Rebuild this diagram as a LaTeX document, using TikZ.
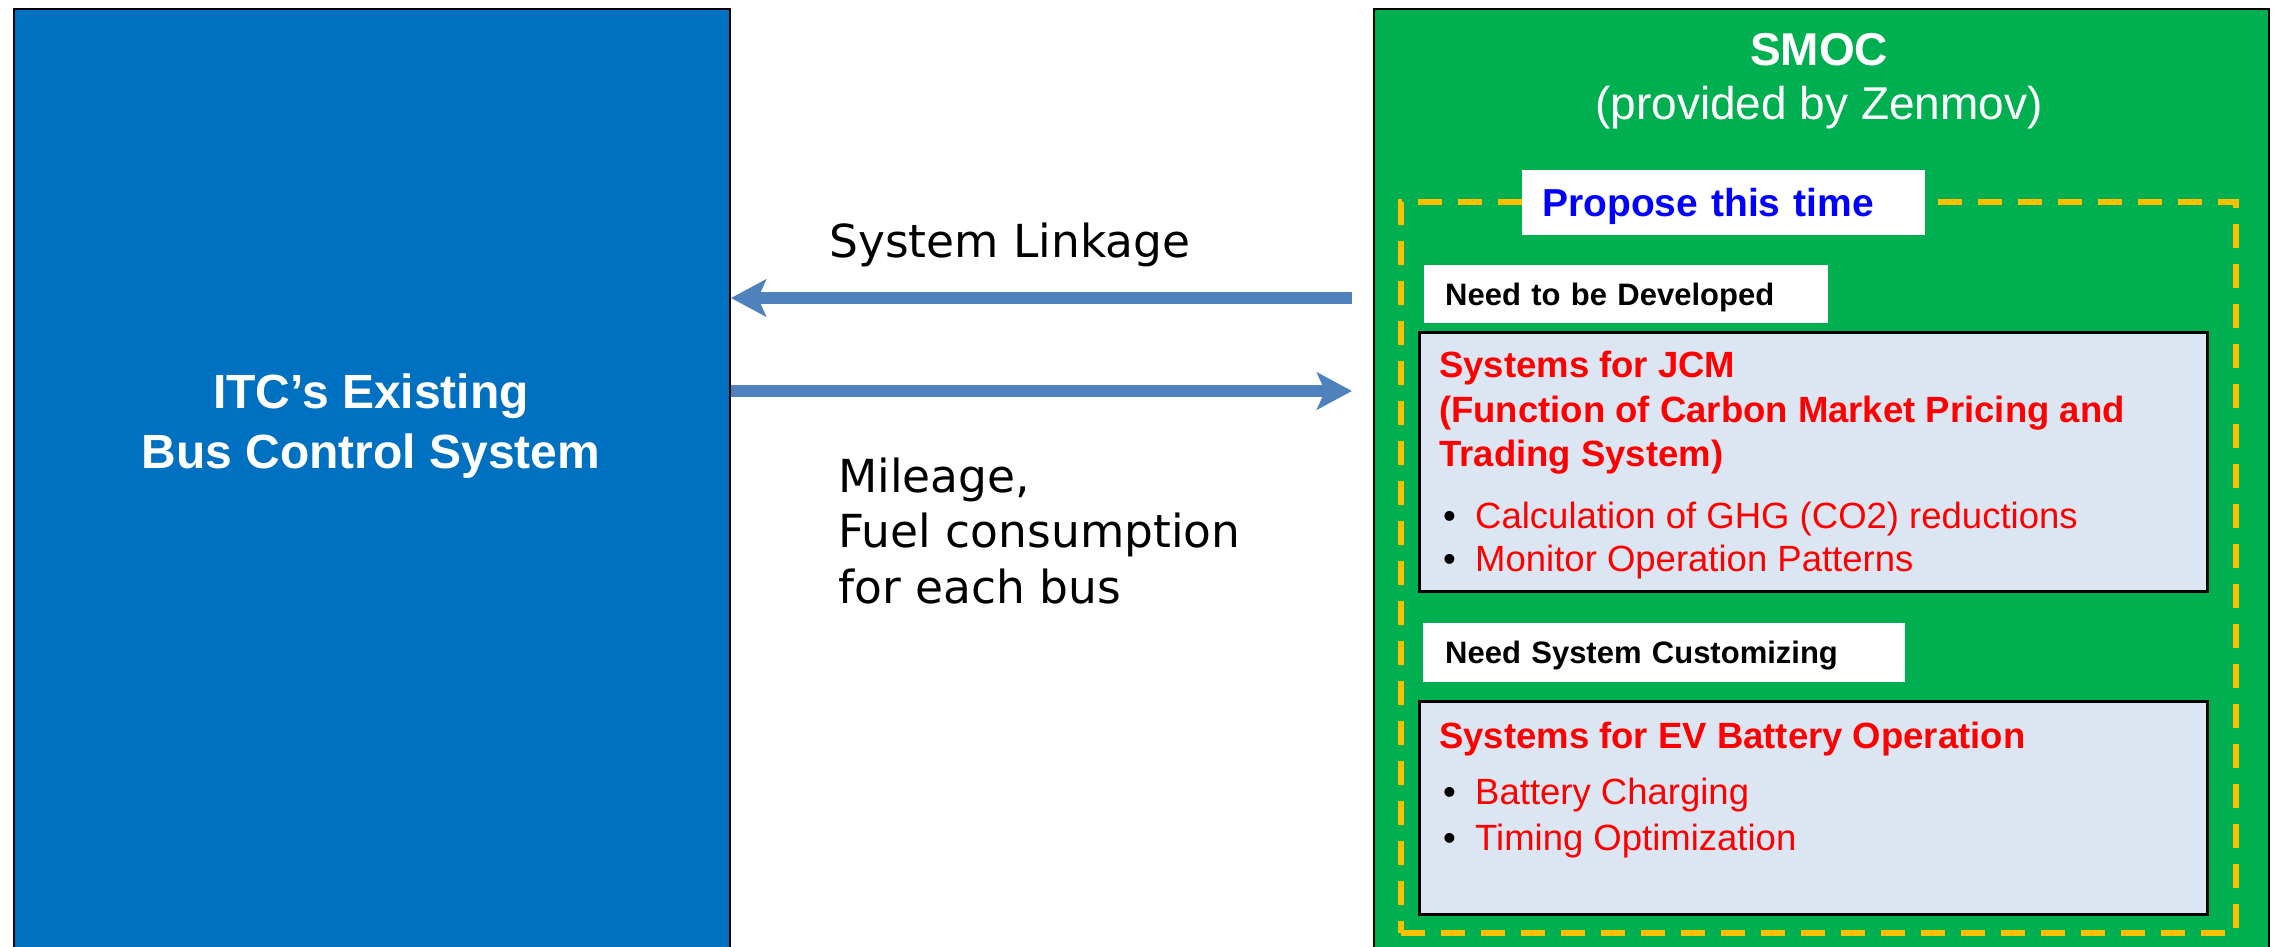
\documentclass[tikz,border=0pt]{standalone}
\usepackage{fontspec}
\setmainfont{Liberation Sans}
\newfontfamily\verdfont{DejaVu Sans}
\usetikzlibrary{arrows.meta}
\definecolor{itcblue}{HTML}{0070C0}
\definecolor{smocgreen}{HTML}{00B050}
\definecolor{propyellow}{HTML}{FFC000}
\definecolor{panelfill}{HTML}{DCE6F2}
\definecolor{arrowblue}{HTML}{4F81BD}
\definecolor{propblue}{HTML}{0000FF}
\definecolor{itemred}{HTML}{FF0000}
\newcommand{\itembullet}{\hspace*{4pt}\makebox[32pt][l]{\textcolor{black}{\textbullet}}}
\begin{document}
\begin{tikzpicture}[x=1pt,y=-1pt,
  bigbox/.style={draw=black, line width=2pt, anchor=north west, inner sep=0pt},
  panel/.style={draw=black, line width=2.5pt, fill=panelfill, anchor=north west, inner sep=0pt},
  tagbox/.style={fill=white, anchor=north west, inner ysep=0pt, text height=22pt, text depth=0pt, align=left, font=\fontsize{31}{37}\selectfont\bfseries},
  linkarrow/.style={line width=12pt, draw=arrowblue, -{Stealth[length=35pt, width=37pt, inset=8pt]}},
  txt/.style={inner sep=0pt, anchor=base west, align=left},
]
\useasboundingbox (0,0) rectangle (2277,946);
\clip (0,0) rectangle (2277,946);
\fill[white] (0,0) rectangle (2277,946);

% main boxes
\node[bigbox, fill=itcblue, minimum width=716pt, minimum height=960pt] (itc) at (13,8) {};
\node[bigbox, fill=smocgreen, minimum width=895pt, minimum height=960pt] (smoc) at (1373,8) {};

% (multi-line nodes: base anchor = baseline of the last line)
\node[inner sep=0pt, anchor=base, align=center, text=white, font=\fontsize{48}{60}\selectfont\bfseries] (itctext) at (371,468) {ITC’s Existing\\Bus Control System};

\node[inner sep=0pt, anchor=base, align=center, text=white, font=\fontsize{46}{54}\selectfont] (smoctitle) at (1819,119) {\textbf{SMOC}\\(provided by Zenmov)};

% arrows
\coordinate (ly) at (0,298);
\coordinate (ry) at (0,391);
\draw[linkarrow, shorten <=21pt] (smoc.west |- ly) -- (itc.east |- ly);
\draw[linkarrow, shorten >=21pt] (itc.east |- ry) -- (smoc.west |- ry);

\node[txt, font=\verdfont\fontsize{45.5}{55}\selectfont] (linklabel) at (829,257) {System Linkage};
\node[txt, font=\verdfont\fontsize{45.5}{55.5}\selectfont] (datalabel) at (838,603) {Mileage,\\Fuel consumption\\for each bus};

% proposal frame
\node[draw=propyellow, line width=5.5pt, dash pattern=on 24pt off 16pt, anchor=north west, inner sep=0pt, outer sep=0pt, minimum width=835pt, minimum height=731pt] (frame) at (1401,202) {};

\node[tagbox, font=\fontsize{39}{46}\selectfont\bfseries, text=propblue, text height=28pt, minimum height=65pt, text width=363pt, inner xsep=20pt] (propose) at (1522,170) {Propose this time};
\node[tagbox, minimum height=58pt, text width=362pt, inner xsep=21pt] (dev) at (1424,265) {Need to be Developed};
\node[tagbox, minimum height=59pt, text width=438pt, inner xsep=22pt] (cust) at (1423,623) {Need System Customizing};

% panels
\node[panel, minimum width=788pt, minimum height=259pt] (jcm) at (1418,331) {};
\node[panel, minimum width=788pt, minimum height=213pt] (ev) at (1418,700) {};

\node[txt, text=itemred, font=\fontsize{36.5}{44.5}\selectfont] (jcmtext) at (1439,571) {\textbf{Systems for JCM}\\\textbf{(Function of Carbon Market Pricing and}\\\textbf{Trading System)}\\[17pt]\itembullet Calculation of GHG (CO2) reductions\\[-1.5pt]\itembullet Monitor Operation Patterns};

\node[txt, text=itemred, font=\fontsize{36.5}{44.5}\selectfont] (evtext) at (1439,850) {\textbf{Systems for EV Battery Operation}\\[11.5pt]\itembullet Battery Charging\\[1.5pt]\itembullet Timing Optimization};
\end{tikzpicture}
\end{document}
